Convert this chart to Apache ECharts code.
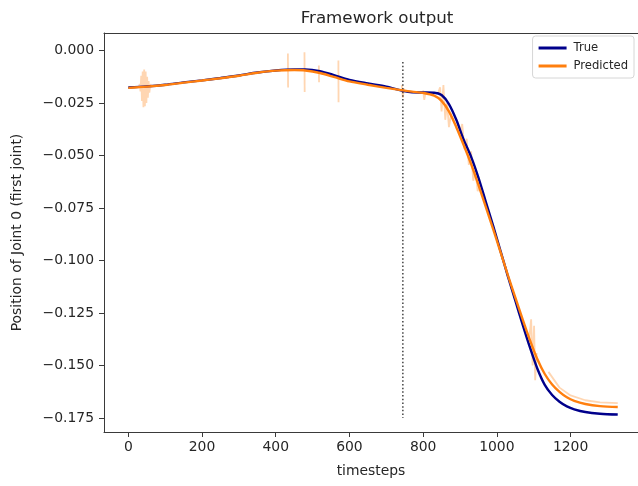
<!DOCTYPE html>
<html>
<head>
<meta charset="utf-8">
<title>Framework output</title>
<script src="https://cdn.jsdelivr.net/npm/echarts@6/dist/echarts.min.js"></script>
<style>
  html, body { margin: 0; padding: 0; background: #fff; }
  #chart { width: 638px; height: 486px; }
</style>
</head>
<body>
<div id="chart"></div>
<script>
// timesteps + joint position
const trueSteps = [0, 50, 100, 150, 200, 250, 300, 350, 400, 450, 480, 520, 560, 600, 650, 700, 745, 770, 800, 830, 850, 870, 890, 910, 930, 950, 970, 990, 1010, 1030, 1050, 1070, 1090, 1110, 1130, 1150, 1170, 1190, 1210, 1240, 1280, 1328]
const trueValues = [-0.0176, -0.0171, -0.0163, -0.0152, -0.0142, -0.0131, -0.0119, -0.0105, -0.0095, -0.0090, -0.0090, -0.0098, -0.0118, -0.0140, -0.0157, -0.0172, -0.0192, -0.0199, -0.0200, -0.0201, -0.0212, -0.0255, -0.0330, -0.0425, -0.0505, -0.0605, -0.0720, -0.0835, -0.0955, -0.1075, -0.1190, -0.1305, -0.1415, -0.1515, -0.1592, -0.1640, -0.1672, -0.1694, -0.1708, -0.1721, -0.1729, -0.1733]
const predValues = [-0.0178, -0.0172, -0.0164, -0.0153, -0.0143, -0.0132, -0.0120, -0.0106, -0.0096, -0.0093, -0.0095, -0.0107, -0.0127, -0.0147, -0.0163, -0.0178, -0.0190, -0.0196, -0.0202, -0.0215, -0.0240, -0.0290, -0.0365, -0.0450, -0.0540, -0.0640, -0.0745, -0.0850, -0.0960, -0.1070, -0.1175, -0.1280, -0.1380, -0.1470, -0.1540, -0.1590, -0.1625, -0.1651, -0.1668, -0.1683, -0.1693, -0.1697]

// faint individual prediction runs (spikes / jitter around the mean)
const runBursts = [
  [[28, -0.0175], [31, -0.0160], [33, -0.0195], [35, -0.0120], [37, -0.0240], [39, -0.0100], [41, -0.0270], [43, -0.0090], [45, -0.0265], [47, -0.0100], [49, -0.0250], [51, -0.0125], [53, -0.0225], [55, -0.0145], [57, -0.0200], [60, -0.0160], [64, -0.0175]],
  [[433, -0.0014], [433.5, -0.0176]],
  [[478, -0.0008], [478.5, -0.0198]],
  [[517, -0.0071], [517.5, -0.0151]],
  [[570, -0.0048], [570.5, -0.0246]],
  [[742, -0.0165], [745, -0.0225], [748, -0.0180]],
  [[800, -0.0190], [803, -0.0235], [806, -0.0205]],
  [[840, -0.0205], [846, -0.0175], [850, -0.0290], [855, -0.0165], [860, -0.0330], [865, -0.0250], [870, -0.0365], [876, -0.0300]],
  [[900, -0.0395], [906, -0.0350], [912, -0.0470], [918, -0.0420], [924, -0.0545], [930, -0.0480], [936, -0.0620], [942, -0.0570], [948, -0.0670], [954, -0.0640]],
  [[1088, -0.1370], [1093, -0.1280], [1097, -0.1500], [1101, -0.1310], [1104, -0.1570], [1108, -0.1440]],
  [[1140, -0.1530], [1170, -0.1605], [1200, -0.1642], [1240, -0.1665], [1280, -0.1675], [1328, -0.1679]]
]

const splitStep = 745
const splitRange = [-0.0055, -0.175]

const xTicks = [0, 200, 400, 600, 800, 1000, 1200]
const yTicks = [0, -0.025, -0.05, -0.075, -0.1, -0.125, -0.15, -0.175]

const font = 'DejaVu Sans'
const ink = '#262626'
const spine = '#3a3a3a'

const chart = echarts.init(document.getElementById('chart'), null, { renderer: 'canvas' })

const fmtY = v => (Math.abs(v) < 1e-9 ? '0.000' : '\u2212' + Math.abs(v).toFixed(3))

const runSeries = runBursts.map(b => ({
  type: 'line',
  data: b,
  symbol: 'none',
  silent: true,
  z: 1,
  lineStyle: { color: 'rgba(255,127,14,0.32)', width: 1.8 }
}))

const option = {
  animation: false,
  backgroundColor: '#fff',
  title: {
    text: 'Framework output',
    left: 372,
    textAlign: 'center',
    top: 5,
    textStyle: { fontFamily: font, fontSize: 16.7, fontWeight: 'normal', color: ink }
  },
  legend: {
    right: 4,
    top: 36,
    orient: 'vertical',
    data: ['True', 'Predicted'],
    icon: 'rect',
    itemWidth: 28,
    itemHeight: 3,
    itemGap: 6,
    padding: [6, 6, 6, 6],
    borderColor: '#d6d6d6',
    borderWidth: 1,
    borderRadius: 3,
    backgroundColor: 'rgba(255,255,255,0.85)',
    textStyle: { fontFamily: font, fontSize: 11.6, color: ink, padding: [0, 0, 0, 2] }
  },
  grid: { left: 104, right: 0, top: 33, bottom: 54, outerBoundsMode: 'none' },
  xAxis: [{
    type: 'value',
    min: -66,
    max: 1383,
    name: 'timesteps',
    nameLocation: 'middle',
    nameGap: 32,
    nameTextStyle: { fontFamily: font, fontSize: 13.9, color: ink },
    axisLine: { show: true, onZero: false, lineStyle: { color: spine, width: 1 } },
    axisTick: { show: true, length: 5, customValues: xTicks, lineStyle: { color: spine } },
    axisLabel: { customValues: xTicks, margin: 8, fontFamily: font, fontSize: 13.9, color: ink, formatter: v => String(v) },
    splitLine: { show: false }
  }, {
    type: 'value',
    position: 'top',
    min: -66,
    max: 1383,
    axisLine: { show: true, onZero: false, lineStyle: { color: spine, width: 1 } },
    axisTick: { show: false },
    axisLabel: { show: false },
    splitLine: { show: false }
  }],
  yAxis: {
    type: 'value',
    min: -0.18162,
    max: 0.00833,
    name: 'Position of Joint 0 (first joint)',
    nameLocation: 'middle',
    nameRotate: 90,
    nameGap: 80,
    nameTextStyle: { fontFamily: font, fontSize: 13.9, color: ink },
    axisLine: { show: true, onZero: false, lineStyle: { color: spine, width: 1 } },
    axisTick: { show: true, length: 5, customValues: yTicks, lineStyle: { color: spine } },
    axisLabel: { customValues: yTicks, margin: 10, fontFamily: font, fontSize: 13.9, color: ink, formatter: fmtY },
    splitLine: { show: false }
  },
  series: [
    ...runSeries,
    {
      type: 'line',
      data: [[splitStep, splitRange[0]], [splitStep, splitRange[1]]],
      symbol: 'none',
      silent: true,
      z: 2,
      lineStyle: { color: '#111', width: 1.2, type: [1.5, 2.2] }
    },
    {
      name: 'True',
      type: 'line',
      data: trueSteps.map((t, i) => [t, trueValues[i]]),
      smooth: 0.3,
      symbol: 'none',
      z: 3,
      color: '#00008b',
      lineStyle: { color: '#00008b', width: 2.4 }
    },
    {
      name: 'Predicted',
      type: 'line',
      data: trueSteps.map((t, i) => [t, predValues[i]]),
      smooth: 0.3,
      symbol: 'none',
      z: 4,
      color: '#ff7f0e',
      lineStyle: { color: '#ff7f0e', width: 2.4 }
    }
  ]
}

chart.setOption(option)
</script>
</body>
</html>
